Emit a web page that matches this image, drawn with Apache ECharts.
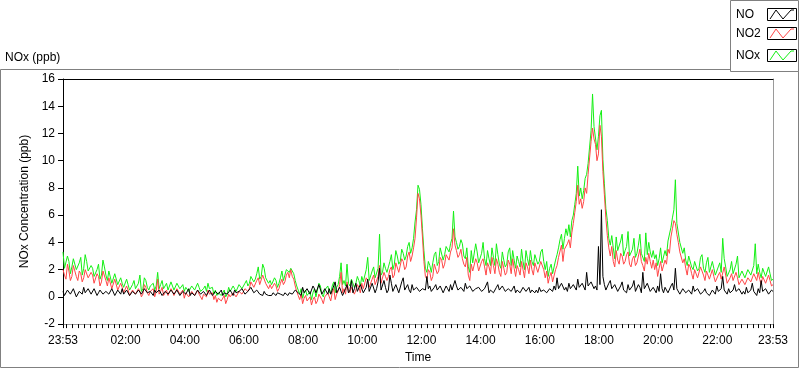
<!DOCTYPE html>
<html><head><meta charset="utf-8">
<script src="https://cdn.jsdelivr.net/npm/echarts@6/dist/echarts.min.js"></script>
<style>html,body{margin:0;padding:0;background:#fff}#c{width:800px;height:369px}</style>
</head><body><div id="c"></div>
<script>
// Sample clock: minutes from midnight, 23:53 of the previous day to 23:53
const START_MIN = -7;
const STEP_MIN = 3;
const END_MIN = 1433;
// x tick labels
const xLabelMinutes = [-7, 120, 240, 360, 480, 600, 720, 840, 960, 1080, 1200, 1320, 1433];
const xLabelTexts = ['23:53','02:00','04:00','06:00','08:00','10:00','12:00','14:00','16:00','18:00','20:00','22:00','23:53'];
const seriesNames = ['NO', 'NO2', 'NOx'];

// NO (ppb), one row per hour
const no = [
0.4,0.1,0.2,0.5,0.6,0.2,0.3,0.6,0.5,0.0,0.1,0.4,0.4,0.2,0.7,0.3,0.3,0.6,0.5,0.2,
0.2,0.6,0.5,0.1,0.3,0.5,0.6,0.2,0.1,0.4,0.4,0.2,0.3,0.6,0.5,0.1,0.2,0.5,0.4,0.2,
0.6,0.2,0.3,0.5,0.5,0.1,0.2,0.4,0.4,0.2,0.1,0.5,0.5,0.2,0.3,0.6,0.6,0.3,0.2,0.4,
0.3,0.1,0.5,0.3,0.2,0.5,0.4,0.1,0.1,0.4,0.4,0.2,0.3,0.5,0.6,0.2,0.2,0.5,0.4,0.1,
0.2,0.4,0.5,0.2,0.3,0.6,0.1,0.3,0.4,0.1,0.3,0.5,0.5,0.2,0.2,0.4,0.4,0.1,0.3,0.5,
0.4,0.1,0.2,0.4,0.5,0.2,0.3,0.5,0.1,0.3,0.4,0.2,0.2,0.5,0.3,0.1,0.5,0.3,0.2,0.4,
0.3,0.6,0.5,0.2,0.2,0.4,0.4,0.7,0.6,0.3,0.3,0.5,0.5,0.2,0.2,0.1,0.4,0.2,0.3,0.1,
0.2,0.1,0.3,0.2,0.1,0.3,0.4,0.2,0.2,0.1,0.3,0.2,0.1,0.3,0.4,0.2,0.3,0.5,0.6,0.3,
0.4,0.1,0.7,0.3,0.3,0.6,0.5,0.2,0.2,0.8,0.6,0.3,0.4,0.9,0.8,0.2,0.3,0.6,0.5,0.2,
0.6,0.2,0.3,0.8,1.1,0.3,0.4,0.7,0.7,0.1,0.2,0.6,0.9,0.3,0.5,1.2,0.3,0.6,1.0,0.4,
0.4,0.9,0.8,0.3,0.3,0.7,1.3,0.4,0.5,1.0,0.9,0.3,0.6,1.1,2.1,0.5,0.4,1.2,0.7,0.3,
0.5,1.6,1.0,0.4,0.3,0.9,0.8,0.3,0.4,1.1,1.4,0.5,0.6,0.9,0.5,0.3,0.9,0.5,0.4,0.7,
0.6,0.4,0.3,0.6,0.7,0.5,1.5,0.6,0.8,0.4,0.4,0.7,0.9,0.5,0.5,0.8,0.7,0.3,0.4,0.8,
0.6,0.4,0.9,0.5,0.5,1.2,0.8,0.5,0.4,0.7,0.7,0.4,1.0,0.6,0.5,0.8,0.6,0.4,0.3,0.6,
0.5,0.7,0.8,0.4,0.4,0.6,0.7,1.1,0.3,0.5,0.6,0.3,0.4,0.7,0.9,0.5,0.5,0.8,0.6,0.4,
0.4,0.6,0.7,0.4,0.5,0.8,0.3,0.5,0.6,0.3,0.4,0.7,0.8,0.4,0.5,0.7,0.3,0.5,0.6,0.3,
0.5,0.3,0.7,0.4,0.3,0.5,0.6,0.3,0.4,0.6,0.5,0.4,0.8,0.5,1.4,0.6,0.6,1.0,0.9,0.5,
0.7,0.4,1.0,0.6,0.5,0.9,0.8,0.5,1.3,0.7,0.6,1.0,0.9,0.5,1.8,0.8,0.7,1.1,1.2,0.6,
0.8,0.5,3.7,0.9,6.4,1.5,0.9,0.5,0.6,1.0,1.2,0.6,0.5,0.9,0.8,0.4,0.4,0.8,1.1,0.5,
0.6,0.3,0.9,0.5,0.4,0.8,1.2,0.4,0.5,0.9,0.7,0.3,1.8,0.6,0.6,1.0,0.9,0.4,0.4,0.7,
0.5,0.3,0.8,0.4,1.7,0.6,0.3,0.7,0.6,0.3,0.4,0.8,1.0,0.5,2.1,0.6,0.5,0.2,0.3,0.6,
0.6,0.3,0.2,0.5,0.5,0.2,0.8,0.4,0.3,0.6,0.5,0.2,0.2,0.4,0.6,0.3,0.4,0.1,0.3,0.5,
0.5,0.2,0.8,0.4,0.3,0.6,1.5,0.5,0.4,0.2,0.6,0.3,0.2,0.5,0.9,0.4,0.3,0.6,0.5,0.2,
0.4,0.2,0.7,0.3,0.2,0.5,1.0,0.4,0.3,0.1,0.6,0.3,1.2,0.4,0.3,0.6,0.5,0.2,0.2,0.5,0.4
];
// NO2 (ppb)
const no2 = [
2.0,1.6,1.3,2.4,1.9,1.2,1.5,2.3,2.2,1.5,1.2,1.9,1.7,1.1,1.4,2.0,2.1,1.4,1.3,1.8,
1.6,1.0,0.9,1.7,1.5,0.8,1.1,1.9,1.8,1.2,0.8,1.4,1.3,0.6,0.7,1.3,1.2,0.5,0.6,1.0,
0.7,0.3,0.2,0.8,0.5,0.1,0.0,0.5,0.6,0.2,0.1,0.6,0.4,0.0,0.2,0.9,0.7,0.3,0.1,0.4,
0.3,0.6,0.0,0.4,1.3,0.2,0.4,0.7,0.1,0.3,0.5,0.1,0.0,0.6,0.4,0.1,0.2,0.6,0.5,0.2,
0.2,0.5,-0.1,0.3,0.3,0.0,0.0,0.4,0.4,0.1,0.1,0.5,0.2,0.0,-0.2,0.2,0.3,0.0,0.5,0.2,
0.1,0.3,-0.2,0.1,-0.4,-0.1,0.0,-0.3,-0.3,0.1,-0.5,-0.2,0.2,0.0,-0.1,0.3,0.3,0.0,0.1,0.4,
0.4,0.2,0.3,0.6,0.7,0.4,0.6,1.1,1.0,0.7,0.8,1.2,1.4,0.9,1.0,1.6,1.5,1.0,0.9,0.6,
0.9,0.6,0.5,1.0,0.8,0.4,0.6,1.0,1.3,0.9,1.1,1.6,1.8,1.4,2.0,1.5,1.3,0.8,0.4,0.1,
-0.2,0.2,-0.5,-0.1,0.1,-0.3,-0.4,0.0,-0.6,-0.2,0.0,-0.5,-0.3,0.2,0.1,-0.2,-0.5,0.0,-0.1,0.3,
0.0,-0.3,0.3,0.6,-0.2,0.2,0.4,0.9,1.8,0.3,0.6,0.2,1.1,0.5,0.3,0.7,0.8,0.2,0.5,0.9,
0.7,0.3,1.0,0.6,0.5,1.4,1.2,0.7,0.8,1.3,1.6,0.9,0.9,1.5,2.3,1.0,1.1,1.8,1.5,1.2,
1.5,2.0,2.2,1.4,1.6,2.5,2.4,1.8,1.9,2.8,2.6,2.0,2.2,3.0,3.3,2.6,3.0,3.6,4.3,5.8,
7.6,7.2,6.0,4.4,2.6,1.5,1.3,2.0,1.8,1.2,1.5,2.4,2.3,1.7,1.9,2.9,2.7,2.1,2.4,3.1,
3.0,2.7,3.3,3.6,5.0,3.8,3.4,2.9,3.1,3.5,2.8,2.4,2.2,2.9,1.6,1.2,2.4,1.9,1.8,2.8,
2.5,1.9,1.8,2.6,2.8,2.2,1.6,2.5,2.2,1.7,2.9,2.3,1.7,2.8,2.4,1.8,1.5,2.6,2.1,1.6,
1.8,2.7,2.4,1.7,2.8,2.1,1.5,2.3,2.0,1.6,2.6,2.0,1.4,2.5,2.2,1.7,2.7,2.0,1.6,2.5,
2.4,1.8,1.9,2.6,2.7,2.0,1.4,1.9,1.0,1.5,1.8,1.1,1.2,2.0,2.3,2.9,3.0,3.8,2.6,3.5,
3.4,3.9,4.2,3.6,4.7,5.4,6.2,7.0,8.2,6.8,7.2,6.5,7.0,8.0,7.6,9.0,10.2,11.4,12.4,11.6,
11.2,10.0,10.5,12.6,11.8,9.2,7.5,5.8,4.5,3.6,3.0,3.7,2.6,2.2,3.4,2.7,2.4,3.2,3.0,2.4,
2.6,3.1,3.3,2.4,2.2,2.8,3.0,2.3,2.5,3.0,3.5,2.6,2.3,1.9,2.9,2.4,3.2,2.6,2.1,2.7,
2.0,2.5,1.5,2.1,2.6,1.9,1.8,2.7,2.4,3.5,3.2,4.4,5.0,5.6,5.4,4.6,4.0,3.3,3.2,2.5,
2.8,2.1,1.6,2.4,2.2,1.7,1.3,2.0,1.9,1.4,1.5,2.2,2.3,1.6,1.2,1.9,1.8,1.3,1.4,2.0,
1.5,1.1,1.0,1.6,1.8,1.3,1.2,2.2,1.6,1.0,0.9,1.4,1.7,1.2,1.1,1.8,1.4,0.9,0.8,1.3,
1.3,0.9,0.8,1.4,1.5,1.1,1.0,1.7,1.6,1.2,1.8,1.3,0.9,1.5,1.4,1.0,1.0,1.6,1.2,0.8,0.9
];
// NOx (ppb)
const nox = [
3.3,2.1,2.0,3.0,2.6,1.7,2.2,2.8,2.8,2.0,1.9,2.5,2.9,1.6,2.1,3.1,2.6,1.9,2.0,2.3,
2.1,1.5,1.4,2.0,2.4,1.3,1.6,2.7,2.2,1.6,1.2,1.9,1.9,1.0,1.1,1.7,1.8,0.9,1.0,1.4,
1.0,0.7,0.6,1.3,0.9,0.5,0.5,0.9,1.2,0.6,0.5,1.0,1.6,0.4,0.6,1.4,1.2,0.7,0.5,0.8,
0.7,1.0,0.5,0.8,1.8,0.6,0.9,1.2,0.6,0.7,1.0,0.5,0.5,1.1,1.0,0.5,0.6,1.0,1.1,0.6,
0.7,0.9,0.4,0.7,0.8,0.4,0.5,0.8,0.9,0.5,0.6,1.0,0.7,0.4,0.3,0.6,0.8,0.4,1.0,0.6,
0.5,0.7,0.2,0.5,0.1,0.3,0.4,0.1,0.2,0.5,0.0,0.2,0.7,0.4,0.3,0.8,0.6,0.4,0.5,0.9,
0.8,0.6,0.7,1.0,1.2,0.8,1.0,1.5,1.6,1.1,1.3,1.7,2.2,1.3,1.5,2.4,2.1,1.4,1.3,1.0,
1.2,0.9,0.8,1.4,1.2,0.7,1.0,1.4,1.9,1.2,1.6,2.0,2.0,1.8,2.1,1.9,1.7,1.2,0.8,0.5,
0.2,0.6,-0.1,0.3,0.5,0.1,0.1,0.4,-0.2,0.3,0.6,0.0,0.1,1.0,0.8,0.2,0.0,0.5,0.4,0.8,
0.4,0.2,0.8,1.1,0.3,0.7,0.9,1.5,2.5,0.9,1.2,0.8,2.4,1.0,0.8,1.3,1.4,0.7,1.0,1.5,
1.2,0.8,1.5,1.1,1.0,2.0,2.9,1.2,1.3,1.9,2.2,1.4,1.5,2.1,4.6,1.6,1.8,2.5,2.1,1.8,
2.2,2.6,3.1,2.0,2.4,3.4,3.0,2.4,2.6,3.5,3.2,2.7,3.0,3.7,4.0,3.2,3.6,4.3,5.5,6.4,
8.2,7.9,6.8,5.0,3.4,2.1,1.8,2.6,2.3,1.8,2.5,3.1,3.3,2.3,2.6,3.6,3.5,2.7,3.1,3.7,
3.6,3.3,3.9,4.3,6.3,4.4,4.0,3.5,3.7,4.2,3.9,3.0,2.8,3.6,2.2,1.8,3.4,2.5,2.5,3.9,
3.3,2.5,2.4,3.2,4.0,2.8,2.3,3.4,2.8,2.3,3.6,2.9,2.3,3.9,3.1,2.4,2.1,3.3,2.7,2.2,
2.4,3.3,3.6,2.3,3.4,2.7,2.1,3.0,2.6,2.2,3.5,2.6,2.0,3.4,2.8,2.3,3.4,2.6,2.3,3.1,
3.0,2.4,2.6,3.3,3.5,2.6,2.0,2.6,1.5,2.1,2.4,1.7,1.8,2.7,3.1,3.6,4.2,4.6,3.5,4.3,
5.0,4.5,5.3,4.4,5.6,6.0,6.8,7.6,9.6,7.4,8.0,7.2,7.8,8.7,9.0,9.8,11.0,12.2,14.9,12.5,
12.4,10.8,11.8,13.3,13.7,10.1,8.3,6.5,5.6,4.3,3.8,4.5,3.6,2.8,4.4,3.4,3.3,4.1,4.6,3.0,
3.4,3.7,4.8,3.0,3.0,3.5,4.3,2.9,3.2,3.8,4.6,3.2,3.1,2.6,4.7,3.1,4.0,3.3,2.9,3.4,
2.8,3.1,2.3,2.8,3.6,2.5,2.6,3.4,3.0,4.1,4.2,5.1,5.8,6.4,8.6,5.4,5.3,4.0,4.0,3.2,
3.6,2.7,2.3,3.0,2.9,2.2,2.0,2.6,2.6,1.9,2.1,2.9,3.1,2.1,1.8,2.5,2.9,1.8,2.2,2.6,
2.1,1.6,1.6,2.2,2.5,1.8,4.3,2.8,2.2,1.5,1.5,2.0,2.6,1.7,1.8,2.4,3.0,1.4,1.4,1.9,
1.9,1.4,1.3,2.0,2.1,1.6,1.6,2.3,3.9,1.7,2.4,1.8,1.4,2.1,2.0,1.5,1.5,2.2,1.7,1.2,1.3
];

const FONT = "'Liberation Sans', Arial, sans-serif";
function pairs(arr){ return arr.map((v,i)=>[START_MIN + i*STEP_MIN, v]); }
const minorTicks = [START_MIN];
for (let m = 0; m < END_MIN; m += 12) minorTicks.push(m);
minorTicks.push(END_MIN);

const chart = echarts.init(document.getElementById('c'), null, {renderer:'canvas'});
const option = {
  animation: false,
  backgroundColor: '#fff',
  grid: {left: 63, top: 79, width: 710, height: 251, containLabel: false},
  xAxis: [{
    type: 'value', min: START_MIN, max: END_MIN, position: 'bottom',
    name: 'Time', nameLocation: 'middle', nameGap: 27,
    nameTextStyle: {fontFamily: FONT, fontSize: 12, color: '#000'},
    axisLine: {show: true, onZero: false, lineStyle: {color: '#9a9a9a', width: 1}},
    axisTick: {show: true, length: 4, customValues: minorTicks, lineStyle: {color: '#000'}},
    axisLabel: {show: true, customValues: xLabelMinutes, margin: 11, fontFamily: FONT, fontSize: 12, color: '#000',
      formatter: v => { const k = xLabelMinutes.indexOf(v); return k >= 0 ? xLabelTexts[k] : ''; }},
    splitLine: {show: false}
  }, {
    type: 'value', min: START_MIN, max: END_MIN, position: 'top',
    axisLine: {show: true, onZero: false, lineStyle: {color: '#000', width: 1}},
    axisTick: {show: false}, axisLabel: {show: false}, splitLine: {show: false}
  }],
  yAxis: [{
    type: 'value', min: -2, max: 16, interval: 2, position: 'left',
    name: 'NOx Concentration (ppb)', nameLocation: 'middle', nameGap: 21,
    nameTextStyle: {fontFamily: FONT, fontSize: 12, color: '#000'},
    axisLine: {show: true, onZero: false, lineStyle: {color: '#000', width: 1}},
    axisTick: {show: true, length: 5, lineStyle: {color: '#000'}},
    axisLabel: {margin: 8, fontFamily: FONT, fontSize: 12, color: '#000'},
    splitLine: {show: false}
  }, {
    type: 'value', min: -2, max: 16, interval: 2, position: 'right',
    axisLine: {show: true, onZero: false, lineStyle: {color: '#9a9a9a', width: 1}},
    axisTick: {show: false}, axisLabel: {show: false}, splitLine: {show: false}
  }],
  series: [
    {name: seriesNames[2], type: 'line', data: pairs(nox), symbol: 'none', sampling: false,
     lineStyle: {color: '#14f014', width: 1}, z: 2},
    {name: seriesNames[1], type: 'line', data: pairs(no2), symbol: 'none', sampling: false,
     lineStyle: {color: '#ff4646', width: 1}, z: 3},
    {name: seriesNames[0], type: 'line', data: pairs(no), symbol: 'none', sampling: false,
     lineStyle: {color: '#000000', width: 1}, z: 4}
  ],
  graphic: [
    {type: 'rect', z: -1, shape: {x: 0.5, y: 69.5, width: 798, height: 298}, style: {fill: 'none', stroke: '#808080', lineWidth: 1}},
    {type: 'text', left: 5, top: 52, style: {text: 'NOx (ppb)', font: "12px " + FONT, fill: '#000'}},
    {type: 'group', z: 100, children: [
      {type: 'rect', shape: {x: 730.5, y: 0.5, width: 68, height: 71}, style: {fill: '#fff', stroke: '#808080', lineWidth: 1}},
      {type: 'text', x: 736, y: 14.5, style: {text: seriesNames[0], font: "12px " + FONT, fill: '#000', verticalAlign: 'middle'}},
      {type: 'text', x: 736, y: 34, style: {text: seriesNames[1], font: "12px " + FONT, fill: '#000', verticalAlign: 'middle'}},
      {type: 'text', x: 736, y: 56, style: {text: seriesNames[2], font: "12px " + FONT, fill: '#000', verticalAlign: 'middle'}},
      {type: 'rect', shape: {x: 767.5, y: 8.5, width: 29, height: 12}, style: {fill: '#fff', stroke: '#000', lineWidth: 1}},
      {type: 'rect', shape: {x: 767.5, y: 27.5, width: 29, height: 12}, style: {fill: '#fff', stroke: '#000', lineWidth: 1}},
      {type: 'rect', shape: {x: 767.5, y: 49.5, width: 29, height: 12}, style: {fill: '#fff', stroke: '#000', lineWidth: 1}},
      {type: 'polyline', shape: {points: [[770,19],[776,10],[783,19],[791,10],[794,10]]}, style: {stroke: '#000', fill: 'none', lineWidth: 1}},
      {type: 'polyline', shape: {points: [[770,38],[776,29],[783,38],[791,29],[794,29]]}, style: {stroke: '#ff4646', fill: 'none', lineWidth: 1}},
      {type: 'polyline', shape: {points: [[770,60],[776,51],[783,60],[791,51],[794,51]]}, style: {stroke: '#14f014', fill: 'none', lineWidth: 1}}
    ]}
  ]
};
chart.setOption(option);
</script>
</body></html>
